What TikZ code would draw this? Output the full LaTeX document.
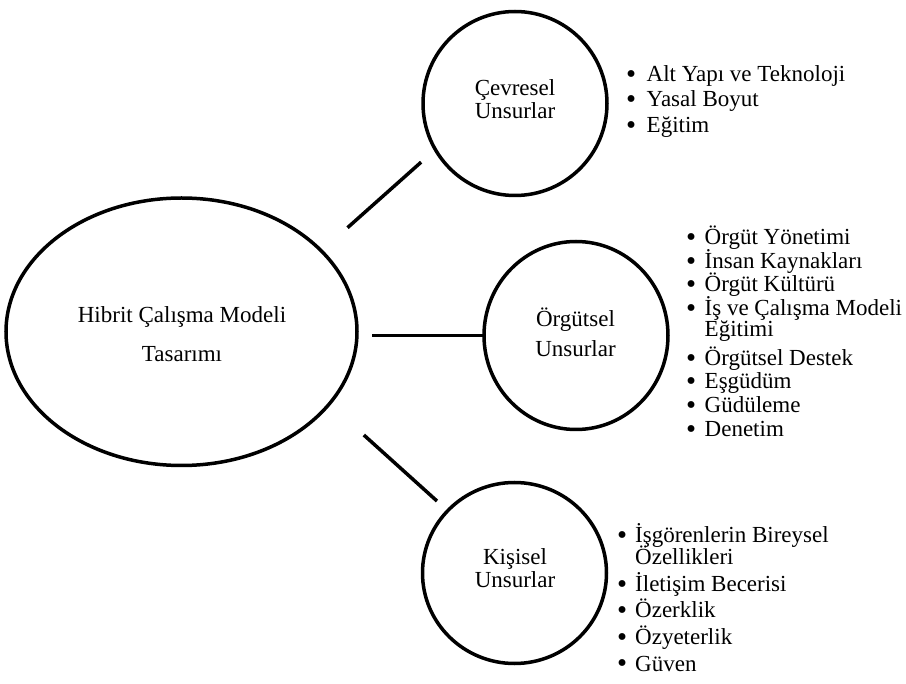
\documentclass[tikz,border=0pt]{standalone}
\usepackage{fontspec}
\setmainfont{Liberation Serif}
\usetikzlibrary{shapes.geometric}

\tikzset{
  unit/.style={ellipse, draw, line width=3.5pt, inner sep=0pt, outer sep=0pt},
  conn/.style={line width=3.5pt},
  txt/.style={inner sep=0pt, anchor=base, font=\fontsize{23}{26}\selectfont},
  listline/.style={inner sep=0pt, anchor=base west, text height=15pt, text depth=4pt,
    font=\fontsize{23}{26}\selectfont},
}
% bullet set in a box of fixed width, or the same indent without it
\newcommand{\bulletbox}[2]{\ifnum#2=1 \makebox[#1][l]{\raisebox{-1.8pt}{\scalebox{1.25}{\textbullet}}}\else\hspace*{#1}\fi}

\begin{document}
\begin{tikzpicture}[x=1pt,y=-1pt]
  \useasboundingbox (0,0) rectangle (906,684);

  % central model and its three groups of factors
  \node[unit, minimum width=351pt, minimum height=267.5pt] (main) at (181.5,331.75) {};
  \node[unit, minimum width=184pt, minimum height=184pt] (c1) at (515,103.5) {};
  \node[unit, minimum width=184pt, minimum height=188pt] (c2) at (576,335.5) {};
  \node[unit, minimum width=184pt, minimum height=181pt] (c3) at (514.5,573) {};

  % links between the model and the groups
  \draw[conn, shorten <=35pt, shorten >=19pt] (main.30) -- (c1.210);
  \draw[conn, shorten <=15pt] (c2.west -| main.east) -- (c2.west);
  \draw[conn, shorten <=46.5pt, shorten >=14.5pt] (main.334) -- (c3.137);

  % titles
  \node[txt] (m1) at (182,323) {Hibrit Çalışma Modeli};
  \node[txt] (m2) at (182,362) {Tasarımı};
  \node[txt] (c1a) at (515,96) {Çevresel};
  \node[txt] (c1b) at (515,119) {Unsurlar};
  \node[txt] (c2a) at (575.5,327) {Örgütsel};
  \node[txt] (c2b) at (575.5,357) {Unsurlar};
  \node[txt] (c3a) at (515,565) {Kişisel};
  \node[txt] (c3b) at (515,588) {Unsurlar};

  % environmental factors
  \foreach \y/\b/\t [count=\i] in {82/1/Alt Yapı ve Teknoloji, 107/1/Yasal Boyut, 133/1/Eğitim}
    \node[listline] (env\i) at (626,\y) {\bulletbox{20.5pt}{\b}\t};

  % organisational factors
  \foreach \y/\b/\t [count=\i] in {245/1/Örgüt Yönetimi, 268.5/1/İnsan Kaynakları,
      292/1/Örgüt Kültürü, 316/1/İş ve Çalışma Modeli, 337/0/Eğitimi,
      366/1/Örgütsel Destek, 389/1/Eşgüdüm, 413/1/Güdüleme, 437/1/Denetim}
    \node[listline] (org\i) at (686,\y) {\bulletbox{18.5pt}{\b}\t};

  % personal factors
  \foreach \y/\b/\t [count=\i] in {543/1/İşgörenlerin Bireysel, 565/0/Özellikleri,
      591.5/1/İletişim Becerisi, 618/1/Özerklik, 644.5/1/Özyeterlik, 671/1/Güven}
    \node[listline] (per\i) at (617,\y) {\bulletbox{18pt}{\b}\t};
\end{tikzpicture}
\end{document}
